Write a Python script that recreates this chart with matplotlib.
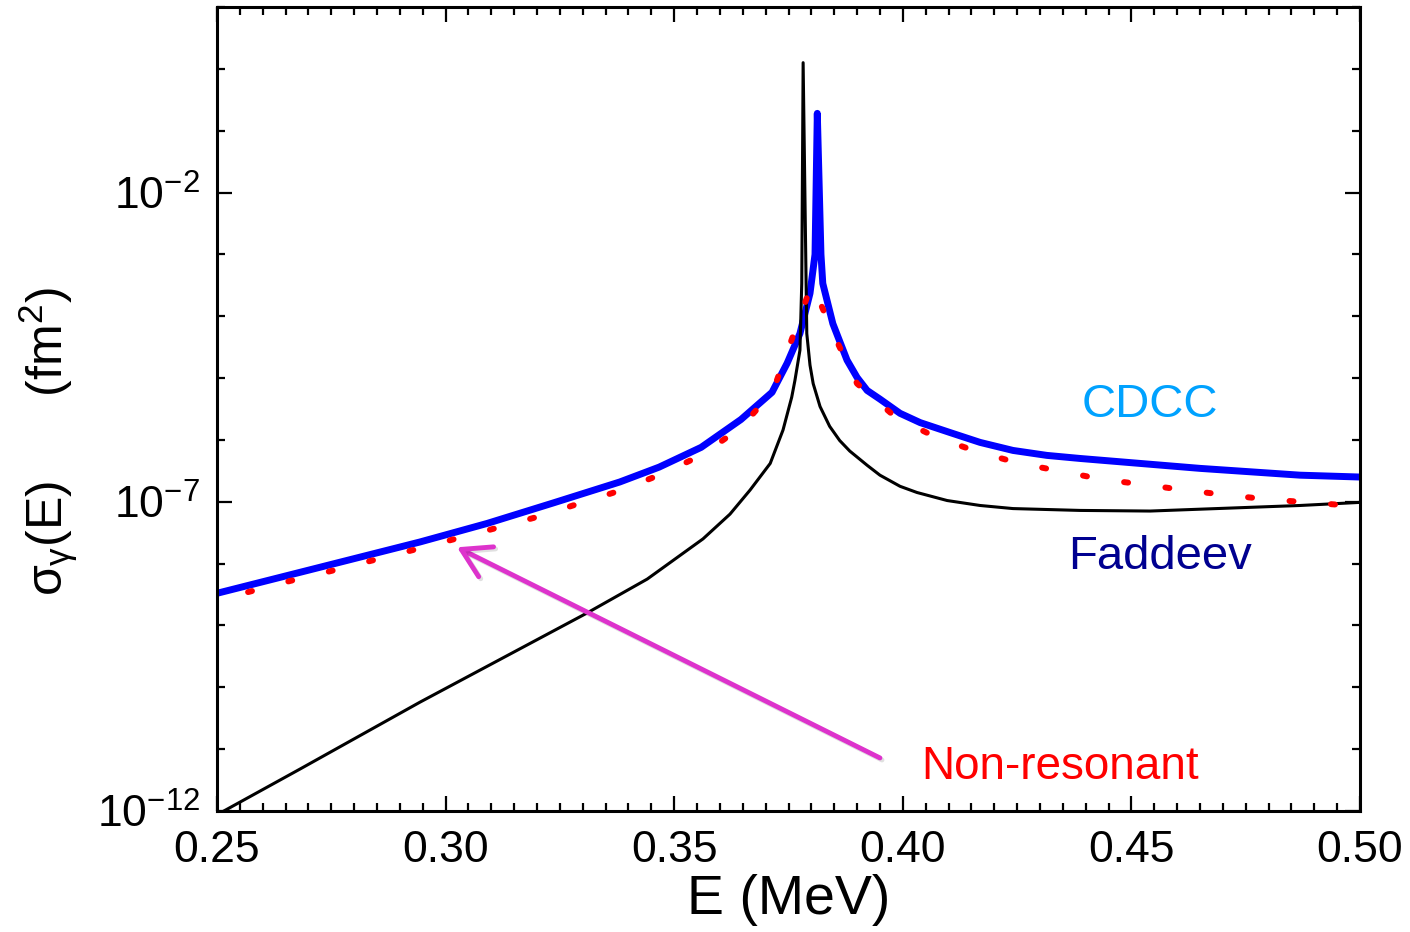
import matplotlib
matplotlib.use('Agg')
import matplotlib.pyplot as plt
import matplotlib.ticker as mticker
import matplotlib.patheffects as pe
import numpy as np

# Data (energy in MeV, log10 of cross section in fm^2)
E_cdcc = [0.2500, 0.2682, 0.2944, 0.3091, 0.3235, 0.3381, 0.3467, 0.3559, 0.3646,
          0.3714, 0.3747, 0.3775, 0.3797, 0.3808, 0.3813, 0.3821, 0.3825, 0.3847,
          0.3878, 0.3900, 0.3922, 0.3950, 0.3994, 0.4038, 0.4103, 0.4169, 0.4241,
          0.4315, 0.4388, 0.4519, 0.4650, 0.4869, 0.5000]
logsig_cdcc = [-8.48, -8.14, -7.65, -7.35, -7.02, -6.68, -6.44, -6.12, -5.67,
               -5.23, -4.76, -4.28, -3.63, -3.00, -0.72, -3.00, -3.47, -4.12,
               -4.71, -4.99, -5.20, -5.34, -5.57, -5.72, -5.88, -6.04, -6.17,
               -6.25, -6.30, -6.38, -6.46, -6.57, -6.60]

E_fad = [0.2515, 0.2682, 0.2944, 0.3091, 0.3309, 0.3441, 0.3563, 0.3622, 0.3666,
         0.3710, 0.3738, 0.3757, 0.3764, 0.3775, 0.3779, 0.3782, 0.3790, 0.3797,
         0.3804, 0.3819, 0.3840, 0.3862, 0.3884, 0.3922, 0.3950, 0.3994, 0.4031,
         0.4097, 0.4169, 0.4241, 0.4388, 0.4541, 0.4650, 0.4869, 0.5000]
logsig_fad = [-12.00, -11.32, -10.24, -9.66, -8.80, -8.25, -7.60, -7.20, -6.81,
              -6.38, -5.84, -5.31, -5.04, -4.55, -3.47, 0.10, -4.28, -4.79,
              -5.09, -5.46, -5.78, -6.01, -6.18, -6.41, -6.57, -6.75, -6.85,
              -6.98, -7.06, -7.11, -7.14, -7.15, -7.12, -7.06, -7.01]

E_nonres = [0.2568, 0.2660, 0.2749, 0.2839, 0.2929, 0.3016, 0.3108, 0.3198, 0.3287,
            0.3377, 0.3467, 0.3559, 0.3646, 0.3716, 0.3749, 0.3782, 0.3800, 0.3819,
            0.3858, 0.3900, 0.3987, 0.4077, 0.4167, 0.4256, 0.4348, 0.4438, 0.4525,
            0.4615, 0.4707, 0.4797, 0.4886, 0.4974]
logsig_nonres = [-8.46, -8.28, -8.12, -7.95, -7.78, -7.61, -7.43, -7.25, -7.04,
                 -6.83, -6.57, -6.25, -5.80, -5.21, -4.54, -3.87, -3.50, -3.78,
                 -4.44, -5.09, -5.65, -5.97, -6.20, -6.38, -6.51, -6.64, -6.72,
                 -6.81, -6.89, -6.96, -7.01, -7.06]

ytick_vals = [1e-12, 1e-7, 1e-2]
ytick_labels = [r'$\mathdefault{10^{-12}}$', r'$\mathdefault{10^{-7}}$', r'$\mathdefault{10^{-2}}$']

plt.rcParams['font.family'] = ['Liberation Sans', 'DejaVu Sans']
plt.rcParams['mathtext.fontset'] = 'custom'
plt.rcParams['mathtext.rm'] = 'Liberation Sans'
plt.rcParams['mathtext.it'] = 'Liberation Sans'
plt.rcParams['mathtext.bf'] = 'Liberation Sans:bold'

fig = plt.figure(figsize=(14.1, 9.32), dpi=100)
ax = fig.add_axes([217/1410, 1 - 811/932, 1143/1410, 804/932])

ax.plot(E_cdcc, 10**np.array(logsig_cdcc), color='#0000FF', lw=5,
        solid_joinstyle='round', solid_capstyle='round', zorder=2)
ax.plot(E_fad, 10**np.array(logsig_fad), color='black', lw=2.2,
        solid_joinstyle='round', zorder=3)
ax.plot(E_nonres, 10**np.array(logsig_nonres), color='#FF0000', lw=4.3,
        linestyle=(0, (0.67, 6.3)), dash_capstyle='round', zorder=4)

ax.set_yscale('log')
ax.set_xlim(0.25, 0.50)
ax.set_ylim(1e-12, 1e1)

ax.xaxis.set_major_locator(mticker.MultipleLocator(0.05))
ax.xaxis.set_minor_locator(mticker.MultipleLocator(0.005))
ax.xaxis.set_major_formatter(mticker.FormatStrFormatter('%.2f'))
ax.yaxis.set_major_locator(mticker.FixedLocator(ytick_vals))
ax.yaxis.set_major_formatter(mticker.FixedFormatter(ytick_labels))
ax.yaxis.set_minor_locator(mticker.FixedLocator([10.0**k for k in range(-12, 2)]))
ax.yaxis.set_minor_formatter(mticker.NullFormatter())

ax.tick_params(which='both', direction='in', top=True, right=True, width=1.6)
ax.tick_params(which='major', length=10.5)
ax.tick_params(which='minor', length=5.5)
ax.tick_params(axis='x', labelsize=32, pad=14)
ax.tick_params(axis='y', labelsize=32, pad=12)
for s in ax.spines.values():
    s.set_linewidth(2.2)

ax.set_xlabel('E (MeV)', fontsize=40, labelpad=2)
ax.set_ylabel(r'$\sigma_{\gamma}$(E)      (fm$^{2}$)', fontsize=36)
ax.yaxis.set_label_coords(-0.12, 0.46)

ax.text(0.816, 0.505, 'CDCC', transform=ax.transAxes, ha='center', va='center',
        color='#00A2FF', fontsize=34)
ax.text(0.825, 0.316, 'Faddeev', transform=ax.transAxes, ha='center', va='center',
        color='#000090', fontsize=34)
ax.text(0.7375, 0.055, 'Non-resonant', transform=ax.transAxes, ha='center', va='center',
        color='#FF0000', fontsize=33)

ax.annotate('', xy=(0.210, 0.328), xytext=(0.580, 0.066), xycoords='axes fraction',
            arrowprops=dict(arrowstyle='->, head_length=0.5, head_width=0.3',
                            color='#DD33CC', lw=3.5, mutation_scale=40,
                            shrinkA=0, shrinkB=0,
                            path_effects=[pe.SimpleLineShadow(offset=(1.5, -1.5), alpha=0.12),
                                          pe.Normal()]))

fig.savefig('out.png', dpi=100)
